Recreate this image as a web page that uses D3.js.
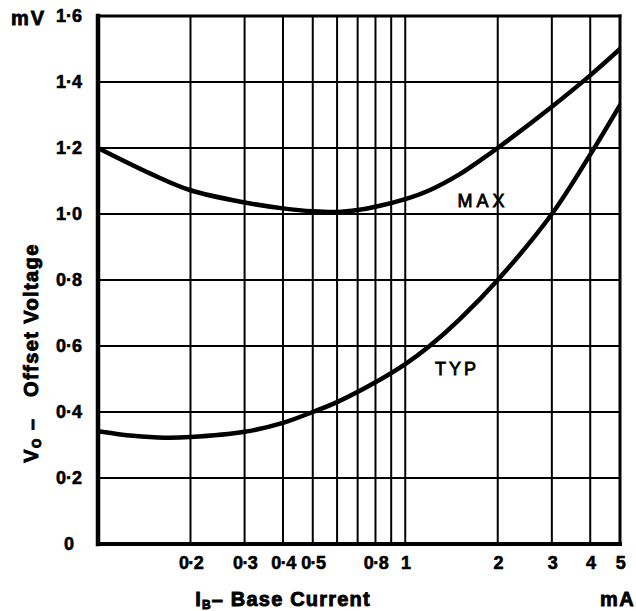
<!DOCTYPE html>
<html>
<head>
<meta charset="utf-8">
<script src="https://cdn.jsdelivr.net/npm/d3@7"></script>
<style>
  html, body { margin: 0; padding: 0; background: #fff; }
  text { font-family: "Liberation Sans", Arial, Helvetica, sans-serif; font-weight: bold; fill: #000; }
</style>
</head>
<body>
<svg id="chart" width="636" height="611"></svg>
<script>
// ---- data ----
const xTickLabels = [0.2, 0.3, 0.4, 0.5, 0.8, 1, 2, 3, 4, 5];
const xGridValues = [0.2, 0.3, 0.4, 0.5, 0.6, 0.7, 0.8, 0.9, 1, 2, 3, 4];
const yTickLabels = [0, 0.2, 0.4, 0.6, 0.8, 1.0, 1.2, 1.4, 1.6];
const yGridValues = [0.2, 0.4, 0.6, 0.8, 1.0, 1.2, 1.4];

const maxCurrent = [0.1, 0.15, 0.2, 0.3, 0.4, 0.5, 0.6, 0.7, 0.8, 1.0, 1.2, 1.5, 1.75, 2.0, 3.0, 4.0, 5.0];
const maxVoltage = [1.20, 1.12, 1.072, 1.035, 1.017, 1.008, 1.006, 1.012, 1.022, 1.045, 1.072, 1.12, 1.162, 1.20, 1.325, 1.42, 1.50];

const typCurrent = [0.1, 0.13, 0.165, 0.2, 0.3, 0.4, 0.5, 0.6, 0.8, 1.0, 1.2, 1.5, 2.0, 3.0, 4.0, 5.0];
const typVoltage = [0.342, 0.328, 0.322, 0.324, 0.34, 0.367, 0.40, 0.43, 0.49, 0.545, 0.60, 0.68, 0.80, 1.00, 1.18, 1.33];

const seriesLabels = [
  { name: "MAX", x: 1.48, y: 1.021 },
  { name: "TYP", x: 1.25, y: 0.512 }
];

// ---- layout ----
const svg = d3.select("#chart");
const x = d3.scaleLog().domain([0.1, 5]).range([98, 620]);
const y = d3.scaleLinear().domain([0, 1.6]).range([544, 16]);
const fmtX = d => Number.isInteger(d) ? String(d) : d3.format(".1f")(d).replace(".", "·");
const fmtY = d => d === 0 ? "0" : d3.format(".1f")(d).replace(".", "·");

// grid
svg.append("g").selectAll("line").data(xGridValues).join("line")
  .attr("x1", d => x(d)).attr("x2", d => x(d))
  .attr("y1", y(1.6)).attr("y2", y(0))
  .attr("stroke", "#000").attr("stroke-width", 2);
svg.append("g").selectAll("line").data(yGridValues).join("line")
  .attr("x1", x(0.1)).attr("x2", x(5))
  .attr("y1", d => y(d)).attr("y2", d => y(d))
  .attr("stroke", "#000").attr("stroke-width", 2.2);

// frame
const frame = svg.append("g").attr("stroke", "#000").attr("stroke-linecap", "square");
frame.append("line").attr("x1", x(0.1)).attr("x2", x(5)).attr("y1", y(1.6)).attr("y2", y(1.6)).attr("stroke-width", 3);
frame.append("line").attr("x1", x(5)).attr("x2", x(5)).attr("y1", y(1.6)).attr("y2", y(0)).attr("stroke-width", 3);
frame.append("line").attr("x1", x(0.1)).attr("x2", x(5)).attr("y1", y(0)).attr("y2", y(0)).attr("stroke-width", 4);
frame.append("line").attr("x1", x(0.1)).attr("x2", x(0.1)).attr("y1", y(1.6)).attr("y2", y(0)).attr("stroke-width", 4.5);

// curves
svg.append("defs").append("clipPath").attr("id", "clip")
  .append("rect").attr("x", x(0.1)).attr("y", y(1.6)).attr("width", x(5) - x(0.1)).attr("height", y(0) - y(1.6));
const line = d3.line().x(d => x(d[0])).y(d => y(d[1])).curve(d3.curveCatmullRom.alpha(0.5));
const curves = [d3.zip(maxCurrent, maxVoltage), d3.zip(typCurrent, typVoltage)];
svg.append("g").attr("clip-path", "url(#clip)").selectAll("path").data(curves).join("path")
  .attr("d", line).attr("fill", "none").attr("stroke", "#000").attr("stroke-width", 4.5)
  .attr("stroke-linecap", "round");

// series labels
svg.append("g").selectAll("text").data(seriesLabels).join("text")
  .attr("x", d => x(d.x)).attr("y", d => y(d.y))
  .attr("font-size", 18).attr("letter-spacing", d => d.name === "MAX" ? 4 : 3)
  .style("font-weight", "normal")
  .attr("stroke", "#000").attr("stroke-width", 0.8)
  .text(d => d.name);

// axes
const xAxis = d3.axisBottom(x).tickValues(xTickLabels).tickFormat(fmtX).tickSize(0).tickPadding(12);
const gx = svg.append("g").attr("transform", `translate(0,${y(0)})`).call(xAxis);
gx.select(".domain").remove();
gx.selectAll("text").attr("font-size", 18).attr("font-family", "Liberation Sans, Arial, sans-serif")
  .attr("font-weight", "bold").attr("letter-spacing", -0.6).attr("stroke", "#000").attr("stroke-width", 0.6);

const yAxis = d3.axisLeft(y).tickValues(yTickLabels).tickFormat(fmtY).tickSize(0).tickPadding(0);
const gy = svg.append("g").attr("transform", "translate(69,0)").call(yAxis);
gy.select(".domain").remove();
gy.selectAll("text").attr("text-anchor", "middle").attr("font-size", 18)
  .attr("font-family", "Liberation Sans, Arial, sans-serif").attr("font-weight", "bold")
  .attr("stroke", "#000").attr("stroke-width", 0.6);

// unit labels
svg.append("text").attr("x", 11).attr("y", 25).attr("font-size", 20).attr("letter-spacing", 2)
  .attr("stroke", "#000").attr("stroke-width", 0.8).text("mV");
svg.append("text").attr("x", 600).attr("y", 606).attr("font-size", 20).attr("letter-spacing", 1.5)
  .attr("stroke", "#000").attr("stroke-width", 0.8).text("mA");

// x title
const xt = svg.append("text").attr("x", 283).attr("y", 606).attr("text-anchor", "middle")
  .attr("font-size", 20).attr("letter-spacing", 1.2).attr("stroke", "#000").attr("stroke-width", 0.9);
xt.append("tspan").text("I");
xt.append("tspan").attr("font-size", 12).attr("dy", 3).text("B");
xt.append("tspan").attr("dy", -3).text("– Base Current");

// y title
const yt = svg.append("text").attr("transform", "translate(38,353) rotate(-90)").attr("text-anchor", "middle")
  .attr("font-size", 20).attr("letter-spacing", 1.4).attr("stroke", "#000").attr("stroke-width", 0.9)
  .attr("xml:space", "preserve");
yt.append("tspan").text("V");
yt.append("tspan").attr("font-size", 12).attr("dy", 3).text("O");
yt.append("tspan").attr("dy", -3).text(" –   Offset Voltage");
</script>
</body>
</html>
